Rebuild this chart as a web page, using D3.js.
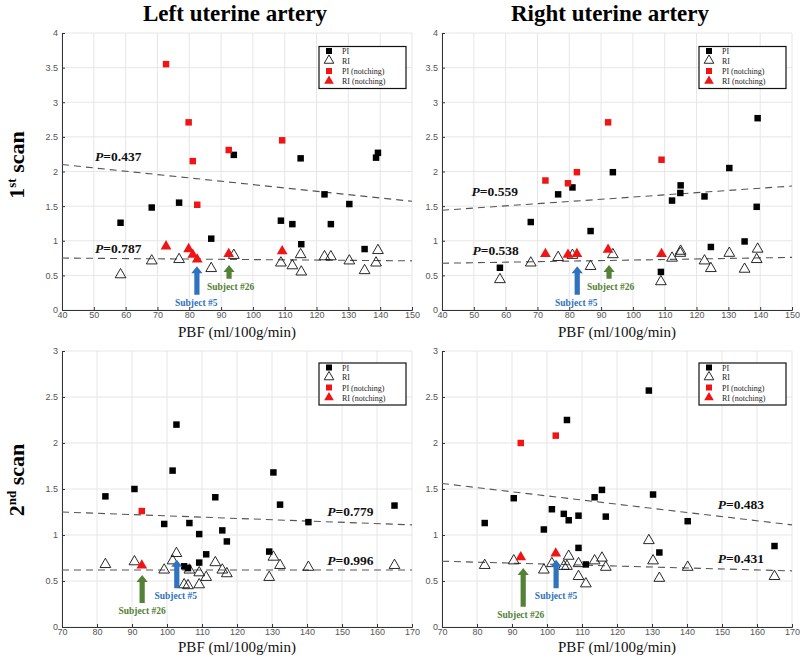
<!DOCTYPE html>
<html><head><meta charset="utf-8">
<script src="https://cdn.jsdelivr.net/npm/d3@7"></script>
<style>body{margin:0;background:#fff}svg{display:block}</style>
</head><body><svg id="c" width="800" height="657"></svg>
<script>
// ---------- DATA ----------
// 1st scan, left uterine artery
const s1LeftPBF  = [58.4,68.2,76.8,86.9,94.0,108.8,112.4,115.0,115.2,122.5,124.5,130.3,135.1,138.7,139.3];
const s1LeftPI   = [1.26,1.48,1.55,1.03,2.24,1.29,1.24,2.19,0.95,1.67,1.24,1.53,0.88,2.20,2.27];
const s1LeftRI   = [0.51,0.71,0.73,0.60,0.79,0.68,0.64,0.80,0.55,0.77,0.77,0.71,0.57,0.68,0.86];
const s1LeftPBFn = [72.7,79.8,81.1,82.5,92.4,109.2];
const s1LeftPIn  = [3.55,2.71,2.15,1.52,2.31,2.45];
const s1LeftRIn  = [0.92,0.88,0.80,0.73,0.81,0.85];
// 1st scan, right uterine artery
const s1RightPBF  = [58.2,67.9,76.5,81.0,86.7,93.7,108.8,112.3,114.9,115.0,122.5,124.5,130.3,135.1,138.9,139.2];
const s1RightPI   = [0.61,1.27,1.67,1.77,1.14,1.99,0.55,1.58,1.69,1.80,1.64,0.91,2.05,0.99,1.49,2.77];
const s1RightRI   = [0.44,0.68,0.76,0.79,0.63,0.80,0.41,0.75,0.82,0.85,0.71,0.60,0.82,0.59,0.73,0.88];
const s1RightPBFn = [72.5,79.6,82.4,92.2,109.0];
const s1RightPIn  = [1.87,1.83,1.99,2.71,2.17];
const s1RightRIn  = [0.81,0.80,0.81,0.87,0.81];
// 2nd scan, left uterine artery
const s2LeftPBF  = [82.4,90.7,99.2,101.6,102.7,104.9,106.0,106.4,109.2,109.2,111.2,113.8,115.8,117.1,129.2,130.4,132.3,140.4,165.0];
const s2LeftPI   = [1.42,1.50,1.12,1.70,2.20,0.66,0.64,1.13,1.01,0.70,0.79,1.41,1.05,0.93,0.82,1.68,1.33,1.14,1.32];
const s2LeftRI   = [0.68,0.71,0.62,0.72,0.80,0.46,0.45,0.62,0.59,0.46,0.54,0.70,0.62,0.58,0.54,0.76,0.67,0.65,0.67];
const s2LeftPBFn = [92.8];
const s2LeftPIn  = [1.26];
const s2LeftRIn  = [0.67];
// 2nd scan, right uterine artery
const s2RightPBF  = [82.2,90.5,99.1,101.4,104.8,105.7,106.2,109.0,109.0,111.1,113.6,115.7,116.8,129.1,130.3,132.1,140.2,165.0];
const s2RightPI   = [1.13,1.40,1.06,1.28,1.23,2.25,1.16,1.21,0.86,0.68,1.41,1.49,1.20,2.57,1.44,0.81,1.15,0.88];
const s2RightRI   = [0.67,0.72,0.62,0.69,0.66,0.66,0.77,0.69,0.55,0.47,0.72,0.75,0.65,0.94,0.72,0.53,0.65,0.55];
const s2RightPBFn = [92.5,102.5];
const s2RightPIn  = [2.00,2.08];
const s2RightRIn  = [0.76,0.80];
// regression lines: values at the ends of the x domain
const s1LeftTrendPI  = [2.10,1.57], s1LeftTrendRI  = [0.75,0.71];
const s1RightTrendPI = [1.44,1.79], s1RightTrendRI = [0.675,0.76];
const s2LeftTrendPI  = [1.25,1.11], s2LeftTrendRI  = [0.62,0.62];
const s2RightTrendPI = [1.56,1.11], s2RightTrendRI = [0.715,0.61];
// p values
const pLabels = [["0.437","0.787"],["0.559","0.538"],["0.779","0.996"],["0.483","0.431"]];
// tick labels
const xTicks1 = [40,50,60,70,80,90,100,110,120,130,140,150];
const yTicks1 = [0,0.5,1,1.5,2,2.5,3,3.5,4];
const xTicks2 = [70,80,90,100,110,120,130,140,150,160,170];
const yTicks2 = [0,0.5,1,1.5,2,2.5,3];
const legendLabels = ["PI","RI","PI (notching)","RI (notching)"];
const colTitles = ["Left uterine artery","Right uterine artery"];
const xLabel = "PBF (ml/100g/min)";

// ---------- LAYOUT ----------
const RED="#f01414", BLUE="#2f72bd", GREEN="#538135";
const serif = "'Liberation Serif','Times New Roman',serif";
const sans = "'Liberation Sans',Arial,sans-serif";
const svg = d3.select("#c");

const panels = [
 {L:62,R:412,T:33,B:310,xd:[40,150],yd:[0,4],xt:xTicks1,yt:yTicks1,
  pbf:s1LeftPBF,pi:s1LeftPI,ri:s1LeftRI,pbfN:s1LeftPBFn,piN:s1LeftPIn,riN:s1LeftRIn,
  tPI:s1LeftTrendPI,tRI:s1LeftTrendRI,p:pLabels[0],pPos:[[50.4,2.15],[50.4,0.82]],
  green:{x:92.5,y0:0.45,y1:0.65,tx:93},blue:{x:82.4,y0:0.22,y1:0.63,tx:82.2},labY:337},
 {L:442,R:792,T:33,B:310,xd:[40,150],yd:[0,4],xt:xTicks1,yt:yTicks1,
  pbf:s1RightPBF,pi:s1RightPI,ri:s1RightRI,pbfN:s1RightPBFn,piN:s1RightPIn,riN:s1RightRIn,
  tPI:s1RightTrendPI,tRI:s1RightTrendRI,p:pLabels[1],pPos:[[49.3,1.64],[49.6,0.79]],
  green:{x:92.5,y0:0.45,y1:0.65,tx:93},blue:{x:82.5,y0:0.22,y1:0.63,tx:82.2},labY:337},
 {L:62,R:412,T:351,B:627,xd:[70,170],yd:[0,3],xt:xTicks2,yt:yTicks2,
  pbf:s2LeftPBF,pi:s2LeftPI,ri:s2LeftRI,pbfN:s2LeftPBFn,piN:s2LeftPIn,riN:s2LeftRIn,
  tPI:s2LeftTrendPI,tRI:s2LeftTrendRI,p:pLabels[2],pPos:[[145.8,1.21],[145.8,0.67]],
  green:{x:92.9,y0:0.26,y1:0.565,tx:92.9},blue:{x:102.8,y0:0.42,y1:0.73,tx:102.5},labY:652},
 {L:442,R:792,T:351,B:627,xd:[70,170],yd:[0,3],xt:xTicks2,yt:yTicks2,
  pbf:s2RightPBF,pi:s2RightPI,ri:s2RightRI,pbfN:s2RightPBFn,piN:s2RightPIn,riN:s2RightRIn,
  tPI:s2RightTrendPI,tRI:s2RightTrendRI,p:pLabels[3],pPos:[[148.8,1.28],[148.8,0.70]],
  green:{x:93.2,y0:0.22,y1:0.64,tx:92.5},blue:{x:102.6,y0:0.42,y1:0.73,tx:102.6},labY:652}
];

const sq = d3.symbol().type(d3.symbolSquare).size(42);
const tri = d3.symbol().type(d3.symbolTriangle).size(50);
const sqL = d3.symbol().type(d3.symbolSquare).size(36);
const triL = d3.symbol().type(d3.symbolTriangle).size(40);

function arrow(g, x, yb, yt, color){
  const hw=2.6, hh=5.6, hl=7;
  g.append("path").attr("fill",color)
   .attr("d",`M${x-hw},${yb}L${x-hw},${yt+hl}L${x-hh},${yt+hl}L${x},${yt}L${x+hh},${yt+hl}L${x+hw},${yt+hl}L${x+hw},${yb}Z`);
}

panels.forEach(p=>{
  const x = d3.scaleLinear().domain(p.xd).range([p.L,p.R]);
  const y = d3.scaleLinear().domain(p.yd).range([p.B,p.T]);
  const g = svg.append("g");
  // grid
  g.selectAll(".gx").data(p.xt).join("line")
   .attr("x1",d=>x(d)).attr("x2",d=>x(d)).attr("y1",p.T).attr("y2",p.B)
   .attr("stroke","#e6e6e6").attr("stroke-width",1);
  g.selectAll(".gy").data(p.yt).join("line")
   .attr("x1",p.L).attr("x2",p.R).attr("y1",d=>y(d)).attr("y2",d=>y(d))
   .attr("stroke","#e6e6e6").attr("stroke-width",1);
  // axes
  const ax = g.append("g").attr("transform",`translate(0,${p.B})`)
   .call(d3.axisBottom(x).tickValues(p.xt).tickSize(-3).tickPadding(2).tickFormat(d=>String(d)));
  const ay = g.append("g").attr("transform",`translate(${p.L},0)`)
   .call(d3.axisLeft(y).tickValues(p.yt).tickSize(-3).tickPadding(4).tickFormat(d=>String(d)));
  [ax,ay].forEach(a=>{
    a.select(".domain").attr("stroke","#333");
    a.selectAll(".tick line").attr("stroke","#333");
    a.selectAll("text").attr("font-family",sans).attr("font-size",9).attr("fill","#555");
  });
  // trend lines
  g.append("line").attr("x1",x(p.xd[0])).attr("x2",x(p.xd[1]))
   .attr("y1",y(p.tPI[0])).attr("y2",y(p.tPI[1]))
   .attr("stroke","#555").attr("stroke-width",1.1).attr("stroke-dasharray","7,5");
  g.append("line").attr("x1",x(p.xd[0])).attr("x2",x(p.xd[1]))
   .attr("y1",y(p.tRI[0])).attr("y2",y(p.tRI[1]))
   .attr("stroke","#555").attr("stroke-width",1.1).attr("stroke-dasharray","7,5");
  // markers
  g.selectAll(".ri").data(p.pbf.map((v,i)=>[v,p.ri[i]])).join("path")
   .attr("d",tri).attr("transform",d=>`translate(${x(d[0])},${y(d[1])})`)
   .attr("fill","none").attr("stroke","#111").attr("stroke-width",0.9);
  g.selectAll(".pi").data(p.pbf.map((v,i)=>[v,p.pi[i]])).join("path")
   .attr("d",sq).attr("transform",d=>`translate(${x(d[0])},${y(d[1])})`)
   .attr("fill","#000");
  g.selectAll(".rin").data(p.pbfN.map((v,i)=>[v,p.riN[i]])).join("path")
   .attr("d",tri).attr("transform",d=>`translate(${x(d[0])},${y(d[1])})`)
   .attr("fill",RED);
  g.selectAll(".pin").data(p.pbfN.map((v,i)=>[v,p.piN[i]])).join("path")
   .attr("d",sq).attr("transform",d=>`translate(${x(d[0])},${y(d[1])})`)
   .attr("fill",RED);
  // P labels
  p.p.forEach((val,i)=>{
    const t = g.append("text").attr("x",x(p.pPos[i][0])).attr("y",y(p.pPos[i][1]))
      .attr("font-family",serif).attr("font-size",13.5).attr("font-weight","bold").attr("fill","#111");
    t.append("tspan").attr("font-style","italic").text("P");
    t.append("tspan").text("="+val);
  });
  // arrows
  arrow(g, x(p.green.x), y(p.green.y0), y(p.green.y1), GREEN);
  arrow(g, x(p.blue.x), y(p.blue.y0), y(p.blue.y1), BLUE);
  g.append("text").attr("x",x(p.green.tx)).attr("y",y(p.green.y0)+11)
   .attr("text-anchor","middle").attr("font-family",serif).attr("font-size",9.5)
   .attr("font-weight","bold").attr("fill",GREEN).text("Subject #26");
  g.append("text").attr("x",x(p.blue.tx)).attr("y",y(p.blue.y0)+11)
   .attr("text-anchor","middle").attr("font-family",serif).attr("font-size",9.5)
   .attr("font-weight","bold").attr("fill",BLUE).text("Subject #5");
  // legend
  const lx = p.L+257, ly = p.T+(p.T<100?13.5:12);
  const lg = g.append("g").attr("transform",`translate(${lx},${ly})`);
  lg.append("rect").attr("width",87).attr("height",42).attr("fill","#fff")
    .attr("stroke","#111").attr("stroke-width",1.2);
  const rows=[4.5,14,24.5,34.5];
  const fills=["#000","none",RED,RED];
  const shapes=[sqL,triL,sqL,triL];
  legendLabels.forEach((lab,i)=>{
    lg.append("path").attr("d",shapes[i]).attr("transform",`translate(10,${rows[i]})`)
      .attr("fill",fills[i]).attr("stroke",i===1?"#111":"none").attr("stroke-width",0.9);
    lg.append("text").attr("x",23).attr("y",rows[i]+3).attr("font-family",serif)
      .attr("font-size",8).attr("fill","#222").text(lab);
  });
  // x label
  g.append("text").attr("x",(p.L+p.R)/2).attr("y",p.labY).attr("text-anchor","middle")
   .attr("font-family",serif).attr("font-size",15).attr("fill","#111").text(xLabel);
});

// column titles
[[235,colTitles[0]],[610,colTitles[1]]].forEach(([cx,t])=>{
  svg.append("text").attr("x",cx).attr("y",21).attr("text-anchor","middle")
   .attr("font-family",serif).attr("font-size",23).attr("font-weight","bold").attr("fill","#000").text(t);
});
// row labels
[[165,"1","st"],[480,"2","nd"]].forEach(([cy,n,sup])=>{
  const t = svg.append("text").attr("transform",`translate(24,${cy}) rotate(-90)`)
   .attr("text-anchor","middle").attr("font-family",serif).attr("font-size",22)
   .attr("font-weight","bold").attr("fill","#000");
  t.append("tspan").text(n);
  t.append("tspan").attr("font-size",13).attr("dy",-8).text(sup);
  t.append("tspan").attr("dy",8).text(" scan");
});
</script></body></html>
